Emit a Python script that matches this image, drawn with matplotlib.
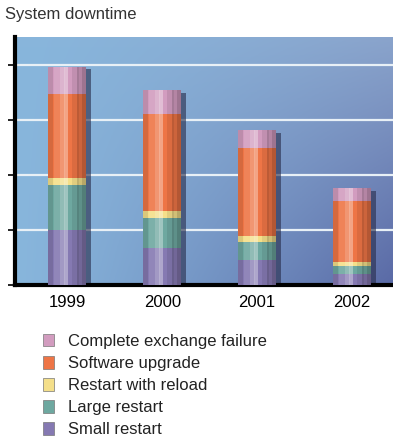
import numpy as np
import matplotlib
matplotlib.use("Agg")
import matplotlib.pyplot as plt
from matplotlib.patches import Patch

# -----------------------------
# Data (tick spacing = 1 unit)
# -----------------------------
years = ["1999", "2000", "2001", "2002"]
small_restart = [1.00, 0.67, 0.45, 0.20]
large_restart = [0.82, 0.55, 0.33, 0.15]
restart_reload = [0.13, 0.13, 0.11, 0.06]
software_upgrade = [1.53, 1.76, 1.60, 1.11]
complete_failure = [0.49, 0.44, 0.33, 0.24]

series = [
    ("Small restart", small_restart, "#8579b2"),
    ("Large restart", large_restart, "#6ea8a0"),
    ("Restart with reload", restart_reload, "#f4df8a"),
    ("Software upgrade", software_upgrade, "#ee7546"),
    ("Complete exchange failure", complete_failure, "#d29cbf"),
]

plt.rcParams["font.family"] = ["Liberation Sans", "DejaVu Sans"]

fig = plt.figure(figsize=(3.93, 4.42), dpi=100)
ax = fig.add_axes([15 / 393, 157 / 442, 1 - 15 / 393, 248 / 442])

x = np.arange(len(years))
ax.set_xlim(-0.55, 3.43)
ax.set_ylim(0, 4.51)

# blue gradient background: light sky blue on the left, darker blue-violet bottom right
gx = np.linspace(0, 1, 200)
gy = np.linspace(0, 1, 120)
GX, GY = np.meshgrid(gx, gy)
left_col = np.array([0x88, 0xb6, 0xdc]) / 255
right_top = np.array([0x8a, 0xa4, 0xcc]) / 255
right_bot = np.array([0x5a, 0x6a, 0xa6]) / 255
right = right_bot[None, None, :] * (1 - GY[..., None]) + right_top[None, None, :] * GY[..., None]
t = (GX ** 1.2)[..., None]
bg = left_col[None, None, :] * (1 - t) + right * t
ax.imshow(bg, extent=[-0.55, 3.43, 0, 4.51], origin="lower", aspect="auto", zorder=0)

# grid lines
for yv in [1, 2, 3, 4]:
    ax.axhline(yv, color="#e8f0f6", lw=1.6, zorder=1)

totals = np.sum([s[1] for s in series], axis=0)
width = 0.40

# shadow behind bars
ax.bar(x + 0.05, totals - 0.05, width=width, color="#262a48", alpha=0.6, zorder=2)

# cylinder shading strips: (offset, width fraction, colour, alpha)
shade = [
    (-0.44, 0.12, "black", 0.10),
    (-0.20, 0.30, "white", 0.10),
    (-0.08, 0.22, "white", 0.16),
    (-0.04, 0.10, "white", 0.22),
    (0.22, 0.20, "black", 0.08),
    (0.38, 0.24, "black", 0.14),
    (0.45, 0.10, "black", 0.12),
]

bottom = np.zeros(len(years))
for name, vals, col in series:
    vals = np.array(vals)
    ax.bar(x, vals, width=width, bottom=bottom, color=col, zorder=3, label=name)
    for off, wf, c, a in shade:
        ax.bar(x + off * width, vals, width=width * wf, bottom=bottom,
               color=c, alpha=a, zorder=4, linewidth=0)
    bottom += vals

# axes look
for s in ["top", "right"]:
    ax.spines[s].set_visible(False)
ax.spines["left"].set_linewidth(3)
ax.spines["bottom"].set_linewidth(3)
ax.set_yticks([0, 1, 2, 3, 4])
ax.set_yticklabels([])
ax.tick_params(axis="y", length=5, width=1.2, direction="out")
ax.set_xticks(x)
ax.set_xticklabels(years, fontsize=12)
ax.tick_params(axis="x", length=0, pad=7)

fig.text(5 / 393, 1 - 14 / 442, "System downtime", fontsize=12,
         va="center", ha="left", color="#333333")

handles = [Patch(facecolor=col, edgecolor="#777777", linewidth=0.5)
           for _, _, col in series][::-1]
labels = [name for name, _, _ in series][::-1]
fig.legend(handles, labels, loc="upper left",
           bbox_to_anchor=(36 / 393, 1 - 327 / 442),
           frameon=False, fontsize=12, handlelength=0.7, handleheight=0.8,
           labelspacing=0.42, handletextpad=0.8, borderaxespad=0,
           labelcolor="#222222")

fig.savefig("out.png", dpi=100)
